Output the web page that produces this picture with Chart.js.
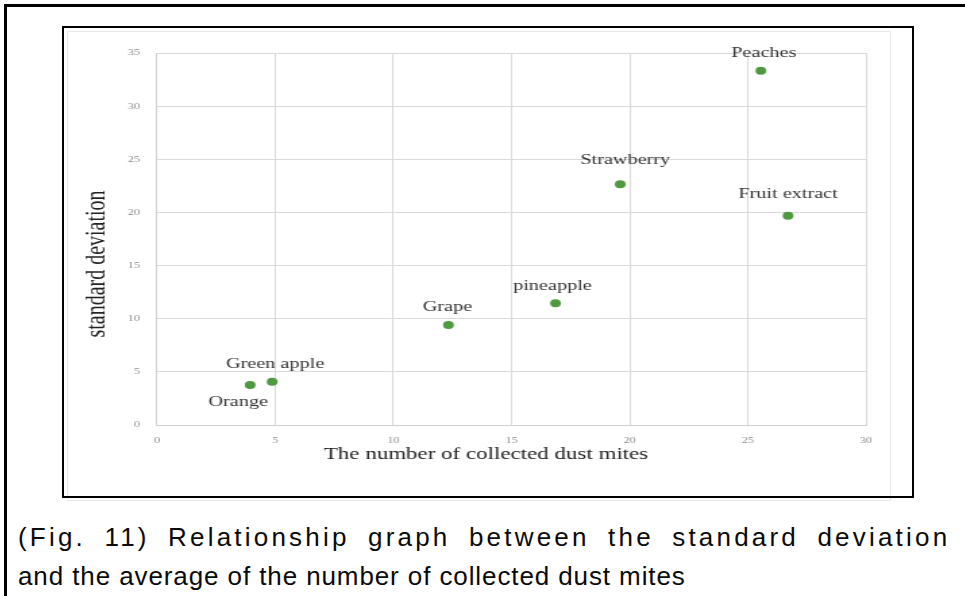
<!DOCTYPE html>
<html>
<head>
<meta charset="utf-8">
<script src="https://cdn.jsdelivr.net/npm/chart.js@4/dist/chart.umd.min.js"></script>
<style>
  html, body { margin: 0; padding: 0; background: #fff; }
  body { width: 965px; height: 596px; position: relative; overflow: hidden; }
  #outer { position: absolute; left: 4px; top: 4px; width: 1000px; height: 620px;
           border: 3px solid #000; box-sizing: border-box; z-index: 3; }
  #inner { position: absolute; left: 62px; top: 26px; width: 852px; height: 472px;
           border: 2px solid #000; box-sizing: border-box; z-index: 3; }
  #faint { position: absolute; left: 67px; top: 31px; width: 824px; height: 470px;
           border: 1px solid #e8e8e8; box-sizing: border-box; z-index: 1; }
  #wrap { position: absolute; left: 64px; top: 27px; width: 630px; height: 468px;
          transform: scaleX(1.35); transform-origin: 0 0; z-index: 2; }
  .cap { position: absolute; left: 18px; font-family: "Liberation Sans", Arial, sans-serif;
         font-size: 26px; line-height: 30px; color: #0a0a0a; white-space: nowrap; }
  #cap1 { top: 522px; letter-spacing: 3.2px; word-spacing: 8px; }
  #cap2 { top: 561px; letter-spacing: 0.9px; }
</style>
</head>
<body>
<div id="outer"></div>
<div id="inner"></div>
<div id="faint"></div>
<div id="wrap"><canvas id="c" width="630" height="468"></canvas></div>
<div class="cap" id="cap1">(Fig. 11) Relationship graph between the standard deviation</div>
<div class="cap" id="cap2">and the average of the number of collected dust mites</div>
<script>
const fruitNames = ["Orange", "Green apple", "Grape", "pineapple", "Strawberry", "Peaches", "Fruit extract"];
const averageMites = [3.94, 4.87, 12.33, 16.86, 19.6, 25.55, 26.7];
const standardDeviation = [3.76, 4.07, 9.4, 11.45, 22.64, 33.33, 19.69];
const xTicks = [0, 5, 10, 15, 20, 25, 30];
const yTicks = [0, 5, 10, 15, 20, 25, 30, 35];
const xTitle = 'The number of collected dust mites';
const yTitle = 'standard deviation';

// styling: label offsets from their point, in screen pixels
const labelOffsets = {
  "Orange": [-12, 17], "Green apple": [3, -18], "Grape": [-1, -18], "pineapple": [-3, -17],
  "Strawberry": [5, -24], "Peaches": [3, -18], "Fruit extract": [0, -22]
};
const STRETCH = 1.35;

const points = fruitNames.map((n, i) => ({ x: averageMites[i], y: standardDeviation[i] }));

const annotationPlugin = {
  id: 'annotations',
  afterDatasetsDraw(chart) {
    const ctx = chart.ctx;
    const meta = chart.getDatasetMeta(0);
    const area = chart.chartArea;
    ctx.save();
    ctx.font = '15px "Liberation Serif", "Times New Roman", serif';
    ctx.fillStyle = '#333';
    ctx.textAlign = 'center';
    ctx.textBaseline = 'middle';
    meta.data.forEach((el, i) => {
      const off = labelOffsets[fruitNames[i]] || [0, -20];
      ctx.fillText(fruitNames[i], el.x + off[0] / STRETCH, el.y + off[1]);
    });
    // axis titles
    ctx.fillStyle = '#222';
    ctx.font = '17px "Liberation Serif", "Times New Roman", serif';
    ctx.fillText(xTitle, (486 - 64) / STRETCH, area.bottom + 30);
    ctx.translate((97 - 64) / STRETCH, (area.top + area.bottom) / 2 + 25);
    ctx.rotate(-Math.PI / 2);
    ctx.font = '20px "Liberation Serif", "Times New Roman", serif';
    ctx.fillText(yTitle, 0, 0);
    ctx.restore();
  }
};

new Chart(document.getElementById('c'), {
  type: 'scatter',
  data: {
    datasets: [{
      data: points,
      backgroundColor: '#4f9a40',
      borderColor: '#4f9a40',
      borderWidth: 0,
      pointRadius: 4,
      pointHoverRadius: 4
    }]
  },
  options: {
    responsive: false,
    animation: false,
    events: [],
    layout: { padding: { top: 26, right: 35.9, left: 0, bottom: 0 } },
    plugins: { legend: { display: false }, tooltip: { enabled: false } },
    scales: {
      x: {
        type: 'linear', min: 0, max: 30,
        afterBuildTicks: s => { s.ticks = xTicks.map(v => ({ value: v })); },
        afterFit: s => { s.height = 70; },
        grid: { color: '#d9d9d9', lineWidth: 1, drawTicks: false },
        border: { color: '#d0d0d0' },
        ticks: { padding: 10.5, color: '#8a8a8a', font: { family: '"Liberation Serif", serif', size: 9 } }
      },
      y: {
        type: 'linear', min: 0, max: 35,
        afterBuildTicks: s => { s.ticks = yTicks.map(v => ({ value: v })); },
        afterFit: s => { s.width = 68.9; },
        grid: { color: '#d9d9d9', lineWidth: 1, drawTicks: false },
        border: { color: '#d0d0d0' },
        ticks: { padding: 12.6, color: '#8a8a8a', font: { family: '"Liberation Serif", serif', size: 9 } }
      }
    }
  },
  plugins: [annotationPlugin]
});
</script>
</body>
</html>
